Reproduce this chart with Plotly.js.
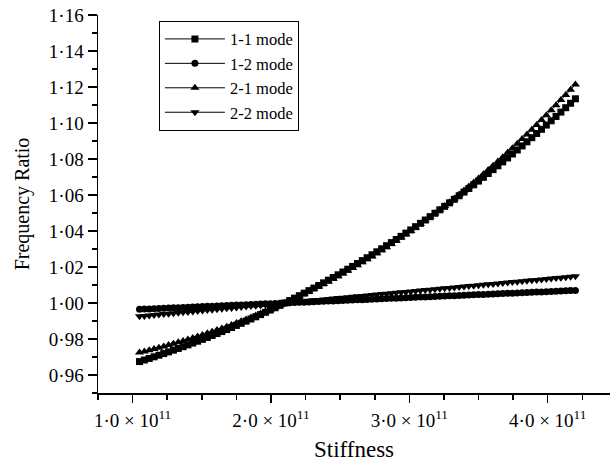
<!DOCTYPE html>
<html>
<head>
<meta charset="utf-8">
<script src="https://cdn.plot.ly/plotly-3.0.1.min.js"></script>
<style>html,body{margin:0;padding:0;background:#fff;}#chart{width:611px;height:465px;}</style>
</head>
<body>
<div id="chart"></div>
<script>
// Stiffness in units of 10^11
const stiffness = [1.050,1.085,1.120,1.155,1.190,1.225,1.260,1.295,1.330,1.365,1.400,1.435,1.470,1.505,1.540,1.575,1.610,1.645,1.680,1.715,1.750,1.785,1.820,1.855,1.890,1.925,1.960,1.995,2.030,2.065,2.100,2.135,2.170,2.205,2.240,2.275,2.310,2.345,2.380,2.415,2.450,2.485,2.520,2.555,2.590,2.625,2.660,2.695,2.730,2.765,2.800,2.835,2.870,2.905,2.940,2.975,3.010,3.045,3.080,3.115,3.150,3.185,3.220,3.255,3.290,3.325,3.360,3.395,3.430,3.465,3.500,3.535,3.570,3.605,3.640,3.675,3.710,3.745,3.780,3.815,3.850,3.885,3.920,3.955,3.990,4.025,4.060,4.095,4.130,4.165,4.200];

const mode11 = [0.96747,0.96833,0.96920,0.97009,0.97099,0.97191,0.97284,0.97379,0.97475,0.97573,0.97673,0.97774,0.97876,0.97981,0.98086,0.98194,0.98303,0.98413,0.98525,0.98639,0.98754,0.98872,0.98990,0.99111,0.99233,0.99356,0.99482,0.99609,0.99737,0.99868,1.00000,1.00134,1.00269,1.00407,1.00546,1.00687,1.00829,1.00973,1.01120,1.01267,1.01417,1.01568,1.01722,1.01877,1.02034,1.02192,1.02353,1.02515,1.02679,1.02845,1.03013,1.03183,1.03355,1.03528,1.03704,1.03881,1.04060,1.04241,1.04425,1.04610,1.04796,1.04985,1.05176,1.05369,1.05564,1.05761,1.05959,1.06160,1.06363,1.06568,1.06774,1.06983,1.07194,1.07407,1.07622,1.07839,1.08058,1.08279,1.08502,1.08727,1.08955,1.09184,1.09416,1.09650,1.09885,1.10123,1.10363,1.10605,1.10850,1.11096,1.11345];

const mode12 = [0.99650,0.99662,0.99673,0.99685,0.99697,0.99708,0.99720,0.99732,0.99743,0.99755,0.99767,0.99778,0.99790,0.99802,0.99813,0.99825,0.99837,0.99848,0.99860,0.99872,0.99883,0.99895,0.99907,0.99918,0.99930,0.99942,0.99953,0.99965,0.99977,0.99988,1.00000,1.00012,1.00023,1.00035,1.00047,1.00058,1.00070,1.00082,1.00093,1.00105,1.00117,1.00128,1.00140,1.00152,1.00163,1.00175,1.00187,1.00198,1.00210,1.00222,1.00233,1.00245,1.00257,1.00268,1.00280,1.00292,1.00303,1.00315,1.00327,1.00338,1.00350,1.00362,1.00373,1.00385,1.00397,1.00408,1.00420,1.00432,1.00443,1.00455,1.00467,1.00478,1.00490,1.00502,1.00513,1.00525,1.00537,1.00548,1.00560,1.00572,1.00583,1.00595,1.00607,1.00618,1.00630,1.00642,1.00653,1.00665,1.00677,1.00688,1.00700];

const mode21 = [0.97245,0.97310,0.97376,0.97445,0.97515,0.97587,0.97660,0.97736,0.97813,0.97892,0.97972,0.98055,0.98139,0.98226,0.98314,0.98404,0.98496,0.98590,0.98686,0.98784,0.98884,0.98986,0.99090,0.99196,0.99305,0.99415,0.99528,0.99643,0.99759,0.99879,1.00000,1.00124,1.00250,1.00378,1.00508,1.00641,1.00776,1.00914,1.01054,1.01196,1.01341,1.01488,1.01638,1.01790,1.01945,1.02102,1.02262,1.02424,1.02589,1.02757,1.02927,1.03100,1.03276,1.03454,1.03635,1.03819,1.04005,1.04195,1.04387,1.04582,1.04780,1.04980,1.05184,1.05390,1.05600,1.05812,1.06027,1.06246,1.06467,1.06691,1.06919,1.07149,1.07383,1.07620,1.07859,1.08102,1.08348,1.08598,1.08850,1.09106,1.09365,1.09627,1.09893,1.10162,1.10434,1.10710,1.10989,1.11271,1.11557,1.11847,1.12139];

const mode22 = [0.99259,0.99284,0.99308,0.99333,0.99358,0.99383,0.99407,0.99432,0.99457,0.99481,0.99506,0.99531,0.99555,0.99580,0.99605,0.99630,0.99654,0.99679,0.99704,0.99728,0.99753,0.99778,0.99802,0.99827,0.99852,0.99877,0.99901,0.99926,0.99951,0.99975,1.00000,1.00025,1.00049,1.00074,1.00099,1.00124,1.00148,1.00173,1.00198,1.00222,1.00247,1.00272,1.00296,1.00321,1.00346,1.00371,1.00395,1.00420,1.00445,1.00469,1.00494,1.00519,1.00543,1.00568,1.00593,1.00618,1.00642,1.00667,1.00692,1.00716,1.00741,1.00766,1.00790,1.00815,1.00840,1.00865,1.00889,1.00914,1.00939,1.00963,1.00988,1.01013,1.01037,1.01062,1.01087,1.01112,1.01136,1.01161,1.01186,1.01210,1.01235,1.01260,1.01284,1.01309,1.01334,1.01359,1.01383,1.01408,1.01433,1.01457,1.01482];

const seriesNames = ["1-1 mode", "1-2 mode", "2-1 mode", "2-2 mode"];
const xTitle = "Stiffness";
const yTitle = "Frequency Ratio";
const xTickSuffix = " \u00d7 10<sup>11</sup>";

const FONT = "'Liberation Serif', 'Times New Roman', Times, serif";
const seriesData = [mode11, mode12, mode21, mode22];
const symbols = ["square", "circle", "triangle-up", "triangle-down"];
const sizes = [7, 7, 8, 8];

const traces = seriesData.map((ys, k) => ({
  type: "scatter",
  mode: "lines+markers",
  name: seriesNames[k],
  x: stiffness,
  y: ys,
  line: {color: "#000", width: 1},
  marker: {symbol: symbols[k], size: sizes[k], color: "#000", line: {width: 0}},
  hoverinfo: "x+y+name"
}));

const axisCommon = {
  showline: true, linecolor: "#000", linewidth: 1.5,
  ticks: "outside", tickcolor: "#000", tickwidth: 1.5,
  showgrid: false, zeroline: false, mirror: false,
  tickfont: {family: FONT, size: 19, color: "#000"}
};

const layout = {
  width: 611, height: 465,
  margin: {l: 98, r: 1, t: 15, b: 72, pad: 0},
  paper_bgcolor: "#fff", plot_bgcolor: "#fff",
  separators: "\u00b7,",
  font: {family: FONT, color: "#000"},
  showlegend: true,
  legend: {
    x: 0.119, y: 0.985, xanchor: "left", yanchor: "top",
    bordercolor: "#000", borderwidth: 1, bgcolor: "#fff",
    font: {family: FONT, size: 16.5, color: "#000"},
    itemwidth: 60, tracegroupgap: 0
  },
  xaxis: Object.assign({}, axisCommon, {
    range: [0.75, 4.45],
    tickmode: "linear", tick0: 1, dtick: 1,
    tickformat: ".1f", ticksuffix: xTickSuffix,
    ticklen: 8, ticklabelstandoff: 2,
    minor: {tick0: 0, dtick: 0.25, ticks: "outside", ticklen: 5, tickwidth: 1.5, tickcolor: "#000", showgrid: false},
    title: {text: xTitle, font: {family: FONT, size: 23, color: "#000"}, standoff: 10}
  }),
  yaxis: Object.assign({}, axisCommon, {
    range: [0.95, 1.16],
    tickmode: "linear", tick0: 0, dtick: 0.02,
    tickformat: ".2f",
    ticklen: 9,
    minor: {tick0: 0, dtick: 0.01, ticks: "outside", ticklen: 5, tickwidth: 1.5, tickcolor: "#000", showgrid: false},
    title: {text: yTitle, font: {family: FONT, size: 20, color: "#000"}, standoff: 14}
  })
};

Plotly.newPlot("chart", traces, layout, {displayModeBar: false, staticPlot: true});
</script>
</body>
</html>
